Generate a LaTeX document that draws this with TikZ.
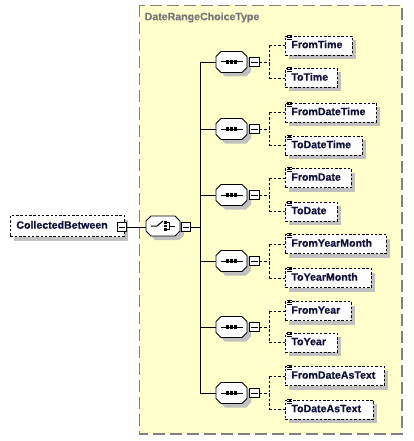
\documentclass[tikz,border=0pt]{standalone}
\usepackage{fontspec}
\setmainfont{Liberation Sans}
\newfontfamily\elfont[FakeBold=0.6]{Liberation Sans Bold}
\usetikzlibrary{shadows}
\definecolor{bgyellow}{RGB}{255,255,204}
\definecolor{bgborder}{RGB}{128,128,128}
\definecolor{shadowc}{RGB}{192,192,192}
\definecolor{elemtext}{RGB}{16,16,56}
\definecolor{titlec}{RGB}{120,120,120}
\tikzset{
  elem/.style={draw, line width=0.8pt, dash pattern=on 2.5pt off 1.8pt, fill=white,
    general shadow={fill=shadowc, draw=none, shadow xshift=4pt, shadow yshift=-4pt},
    font=\fontsize{10.6}{12}\elfont, text=elemtext, anchor=west,
    minimum height=19pt, inner xsep=6pt, inner ysep=0pt, align=left,
    text height=7.6pt, text depth=2.2pt},
  minusbox/.style={draw, line width=0.8pt, fill=white, minimum size=9.5pt, inner sep=0pt},
  wire/.style={line width=0.9pt},
  dwire/.style={line width=0.8pt, dash pattern=on 2.5pt off 2pt},
  octline/.style={line width=0.9pt, fill=white},
}
\newcommand\MinusLine[1]{\draw[line width=0.8pt] ([xshift=2pt]#1.west) -- ([xshift=-2pt]#1.east);}
\newcommand\ElemBox[5]{% name, x, y, width, text
  \node[elem, text width=#4pt-12pt] (#1) at (#2,-#3) {#5};
  \foreach \dy in {0,2,4}{\draw[line width=0.7pt] ([xshift=2pt,yshift=-\dy pt+0.5pt]#1.north west) -- ++(5pt,0);}
}
\newcommand\SeqOct[2]{% name, y
  \begin{scope}[shift={(231.5,-#2)}]
    \fill[shadowc] (-6.5,6.5) -- (14.5,6.5) -- (19.5,1.5) -- (19.5,-9.5) -- (14.5,-14.5) -- (-6.5,-14.5) -- (-11.5,-9.5) -- (-11.5,1.5) -- cycle;
    \draw[octline] (-10.5,10.5) -- (10.5,10.5) -- (15.5,5.5) -- (15.5,-5.5) -- (10.5,-10.5) -- (-10.5,-10.5) -- (-15.5,-5.5) -- (-15.5,5.5) -- cycle;
    \draw[line width=1pt] (-11,0) -- (11,0);
    \foreach \sx in {-4.2,0,4.2}{\fill (\sx-1.7,-1.7) rectangle (\sx+1.7,1.7);}
  \end{scope}
  \coordinate (#1w) at (216,-#2);
  \node[minusbox] (#1m) at (254.5,-#2) {};
  \MinusLine{#1m}
}
\begin{document}
\begin{tikzpicture}[x=1pt,y=1pt]
\useasboundingbox (0,0) rectangle (414,-441);
% background group
\draw[fill=bgyellow, draw=bgborder, line width=1.2pt, dash pattern=on 12pt off 5pt] (139.5,-5.5) rectangle (402,-434);
\node[anchor=west, font=\fontsize{10.6}{12}\elfont, text=titlec, inner sep=0pt] (title) at (144.5,-17.5) {DateRangeChoiceType};

% root element
\node[elem, text width=102pt, minimum height=21pt] (root) at (10,-226) {CollectedBetween};
\node[minusbox] (rootm) at (122,-227) {};
\MinusLine{rootm}

% choice compositor
\begin{scope}[shift={(163,-226)}]
  \fill[shadowc] (-8,6) -- (16,6) -- (21,1) -- (21,-9) -- (16,-14) -- (-8,-14) -- (-13,-9) -- (-13,1) -- cycle;
  \draw[octline] (-12,10) -- (12,10) -- (17,5) -- (17,-5) -- (12,-10) -- (-12,-10) -- (-17,-5) -- (-17,5) -- cycle;
  \draw[line width=1pt] (-12,0) -- (-6,0) -- (0,5);
  \foreach \sy in {-3.8,0,3.8}{\fill (1,\sy-1.4) rectangle (3.8,\sy+1.4);}
  \draw[line width=1pt] (3.8,3.8) -- (6.2,3.8) -- (6.2,-3.8) -- (3.8,-3.8);
  \draw[line width=1pt] (6.2,0) -- (12,0);
\end{scope}
\coordinate (chw) at (146,-226);
\node[minusbox] (chm) at (186,-227) {};
\MinusLine{chm}
\draw[wire] (rootm.east) -- (rootm.east -| chw);

% sequences
\SeqOct{s1}{62}
\SeqOct{s2}{129}
\SeqOct{s3}{195}
\SeqOct{s4}{261}
\SeqOct{s5}{327}
\SeqOct{s6}{393}

% bus
\foreach \i/\y in {1/62,2/129,3/195,4/261,5/327,6/393}{\coordinate (b\i) at (200,-\y);}
\draw[wire] (b1) -- (b6);
\foreach \i in {1,...,6}{\draw[wire] (b\i) -- (s\i w);}
\draw[wire] (chm.east) -- (chm.east -| b1);

% elements
\ElemBox{e1}{285}{45.5}{67}{FromTime}
\ElemBox{e2}{285}{78}{52}{ToTime}
\ElemBox{e3}{285}{112.5}{91}{FromDateTime}
\ElemBox{e4}{285}{145.5}{77}{ToDateTime}
\ElemBox{e5}{285}{178}{66}{FromDate}
\ElemBox{e6}{285}{211.5}{52}{ToDate}
\ElemBox{e7}{285}{244}{101}{FromYearMonth}
\ElemBox{e8}{285}{278}{86}{ToYearMonth}
\ElemBox{e9}{285}{311}{66}{FromYear}
\ElemBox{e10}{285}{342.5}{52}{ToYear}
\ElemBox{e11}{285}{376}{99}{FromDateAsText}
\ElemBox{e12}{285}{409.5}{88}{ToDateAsText}

% dashed branches
\foreach \s/\a/\b in {1/1/2,2/3/4,3/5/6,4/7/8,5/9/10,6/11/12}{
  \coordinate (j\s) at (269,0);
  \draw[dwire] (s\s m.east) -- (s\s m.east -| j\s);
  \draw[dwire] (j\s |- e\a.west) -- (e\a.west);
  \draw[dwire] (j\s |- e\b.west) -- (e\b.west);
  \draw[dwire] (j\s |- e\a.west) -- (j\s |- e\b.west);
}
\end{tikzpicture}
\end{document}
